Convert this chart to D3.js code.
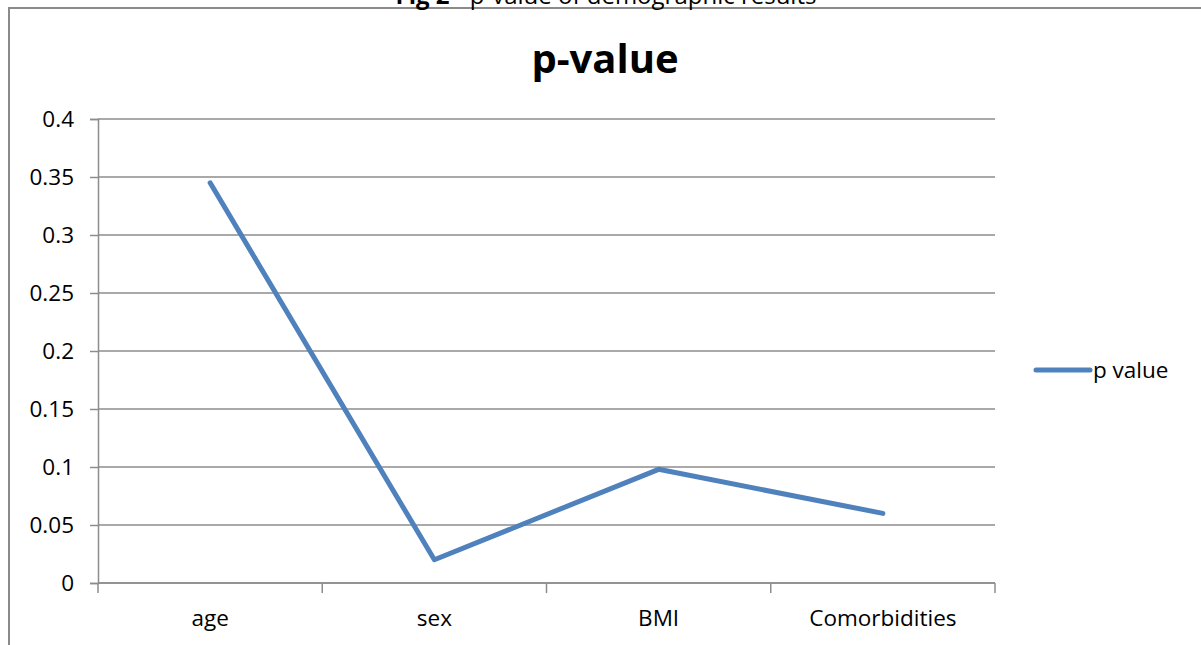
<!DOCTYPE html>
<html>
<head>
<meta charset="utf-8">
<script src="https://cdn.jsdelivr.net/npm/d3@7"></script>
<style>
  html, body { margin: 0; padding: 0; background: #fff; }
  svg { display: block; font-family: "Open Sans", "Liberation Sans", sans-serif; }
</style>
</head>
<body>
<svg id="chart" width="1201" height="645"></svg>
<script>
// Demographic variables and their p-values
const categories = ["age", "sex", "BMI", "Comorbidities"];
const pValues = [0.345, 0.02, 0.098, 0.06];
const yTicks = [0, 0.05, 0.1, 0.15, 0.2, 0.25, 0.3, 0.35, 0.4];
const seriesName = "p value";

const svg = d3.select("#chart");
const gridColor = "#8c8c8c";
const lineColor = "#4f81bd";
const labelSize = 22.5;

// Outer frame (partially visible, caption above it)
svg.append("path")
  .attr("d", "M9,645 V8 H1201")
  .attr("fill", "none")
  .attr("stroke", "#8a8a8a")
  .attr("stroke-width", 2);

// Caption sitting just above the frame
const cap = svg.append("text")
  .attr("x", 606).attr("y", 4)
  .attr("text-anchor", "middle")
  .attr("font-size", 24)
  .attr("fill", "#000");
cap.append("tspan").attr("font-weight", "bold").text("Fig 2");
cap.append("tspan").text(" - p-value of demographic results");

// Chart title
svg.append("text")
  .attr("x", 605).attr("y", 73)
  .attr("text-anchor", "middle")
  .attr("font-size", 40)
  .attr("font-weight", "bold")
  .attr("fill", "#000")
  .text("p-value");

const x = d3.scaleBand().domain(categories).range([98, 995]);
const y = d3.scaleLinear().domain([0, 0.4]).range([583, 119]);

// Horizontal gridlines
svg.append("g")
  .selectAll("line")
  .data(yTicks)
  .join("line")
  .attr("x1", 98).attr("x2", 995)
  .attr("y1", d => y(d)).attr("y2", d => y(d))
  .attr("stroke", gridColor).attr("stroke-width", 1.5);

// Y axis
const yAxis = svg.append("g")
  .attr("transform", "translate(98,0)")
  .call(d3.axisLeft(y).tickValues(yTicks).tickSize(8).tickPadding(16)
    .tickFormat(d => String(+d.toFixed(2))));
yAxis.select(".domain").attr("stroke", gridColor).attr("stroke-width", 1.5);
yAxis.selectAll(".tick line").attr("stroke", gridColor).attr("stroke-width", 1.5);
yAxis.selectAll(".tick text").attr("font-size", labelSize).attr("fill", "#000")
  .attr("font-family", "\"Open Sans\", sans-serif");

// X axis with tick marks at category boundaries
const xAxisG = svg.append("g").attr("transform", "translate(0,583)");
xAxisG.append("line")
  .attr("x1", 98).attr("x2", 995)
  .attr("stroke", gridColor).attr("stroke-width", 1.5);
const bounds = categories.map(c => x(c)).concat([x.range()[1]]);
xAxisG.selectAll("line.tick")
  .data(bounds)
  .join("line")
  .attr("class", "tick")
  .attr("x1", d => d).attr("x2", d => d)
  .attr("y1", 0).attr("y2", 10)
  .attr("stroke", gridColor).attr("stroke-width", 1.5);
xAxisG.selectAll("text")
  .data(categories)
  .join("text")
  .attr("x", d => x(d) + x.bandwidth() / 2)
  .attr("y", 43)
  .attr("text-anchor", "middle")
  .attr("font-size", labelSize)
  .attr("fill", "#000")
  .text(d => d);

// Data line
const line = d3.line()
  .x((d, i) => x(categories[i]) + x.bandwidth() / 2)
  .y(d => y(d));
svg.append("path")
  .datum(pValues)
  .attr("d", line)
  .attr("fill", "none")
  .attr("stroke", lineColor)
  .attr("stroke-width", 5)
  .attr("stroke-linejoin", "round")
  .attr("stroke-linecap", "round");

// Legend
const lg = svg.append("g").attr("transform", "translate(1036,370)");
lg.append("line")
  .attr("x1", 0).attr("x2", 54)
  .attr("stroke", lineColor).attr("stroke-width", 5)
  .attr("stroke-linecap", "round");
lg.append("text")
  .attr("x", 57).attr("y", 8)
  .attr("font-size", labelSize)
  .attr("fill", "#000")
  .text(seriesName);
</script>
</body>
</html>
